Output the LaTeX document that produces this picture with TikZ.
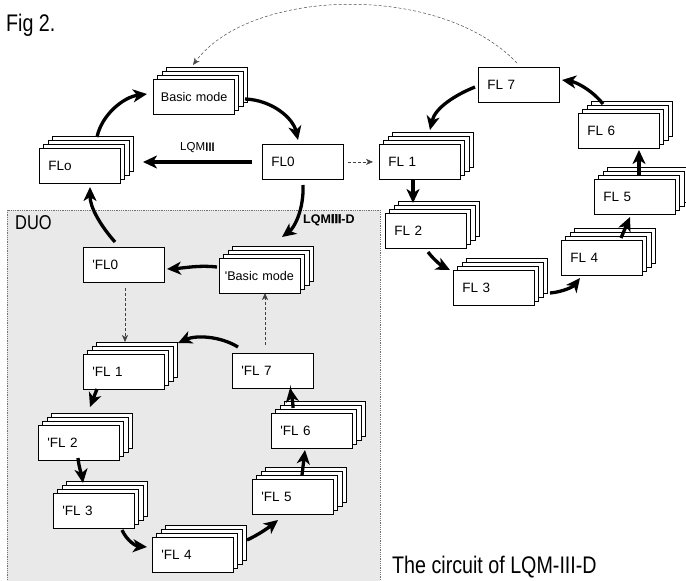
\documentclass[tikz,border=0pt]{standalone}
\usepackage{fontspec}
\setmainfont{Liberation Sans}
\newfontfamily\narrowfont{Liberation Sans}[FakeStretch=0.82]
\newfontfamily\heavyfont{Liberation Sans}[FakeBold=3]
\usetikzlibrary{arrows.meta}
\definecolor{duogray}{RGB}{233,233,233}
\tikzset{
 box/.style={draw, line width=0.8pt, fill=white, anchor=north west, minimum width=81pt, minimum height=35pt,
   inner xsep=9pt, inner ysep=0pt, text width=63pt, align=left, font=\fontsize{13.5}{15}\selectfont},
 bmbox/.style={box, inner xsep=5.5pt, text width=70pt, font=\fontsize{12.6}{14}\selectfont},
 backbox/.style={draw, line width=0.8pt, fill=white},
 flow/.style={line width=3.3pt, -{Stealth[length=14pt,width=13pt,inset=4pt]}},
 hint/.style={line width=0.6pt, black!75, dash pattern=on 3pt off 2pt, -{Stealth[length=7pt,width=6pt,inset=2pt]}},
 label/.style={anchor=base west, inner sep=0pt},
}
\newcommand\mystack[5][box]{%
  \foreach \k in {3,2,1}{\draw[backbox] ({#3+4.5*\k},{#4-3.8*\k}) rectangle ++(81,35);}
  \node[#1] (#2) at (#3,#4) {#5};
}
\begin{document}
\begin{tikzpicture}[x=1pt,y=-1pt]
\useasboundingbox (0,0) rectangle (686,581);
\clip (0,0) rectangle (686,581);
% DUO region
\draw[fill=duogray, draw=black!55, densely dotted, line width=0.8pt] (7,210) rectangle (380,600);
\node[label, font=\narrowfont\fontsize{20}{22}\selectfont] (duo) at (15,229) {DUO};
\node[label, font=\bfseries\fontsize{12.5}{14}\selectfont] (lqmd) at (303,223) {LQM{\heavyfont III}-D};

% texts
\node[label, font=\narrowfont\fontsize{24}{26}\selectfont] (fig) at (6,31) {Fig 2.};
\node[label, font=\narrowfont\fontsize{24}{26}\selectfont] (cap) at (392,573) {The circuit of LQM-III-D};

% top-left cluster
\mystack[bmbox]{basic}{153}{79}{\hspace*{2pt}Basic mode}
\mystack{flo}{39}{148}{FLo}
\node[box] (fl0) at (262,144) {FL0};

% right cluster
\node[box] (fl7) at (478,67) {FL 7};
\mystack{fl1}{379}{144}{FL 1}
\mystack{fl2}{385}{213}{FL 2}
\mystack{fl3}{453}{270}{FL 3}
\mystack{fl4}{561}{240}{FL 4}
\mystack{fl5}{594}{179}{FL 5}
\mystack{fl6}{578}{113}{FL 6}

% DUO cluster
\node[box] (dfl0) at (83,247) {\textquotesingle FL0};
\mystack[bmbox]{dbasic}{219}{258}{\textquotesingle Basic mode}
\node[box] (dfl7) at (232,353) {\textquotesingle FL 7};
\mystack{dfl1}{83}{354}{\textquotesingle FL 1}
\mystack{dfl2}{38}{425}{\textquotesingle FL 2}
\mystack{dfl3}{53}{493}{\textquotesingle FL 3}
\mystack{dfl4}{152}{537}{\textquotesingle FL 4}
\mystack{dfl5}{252}{479}{\textquotesingle FL 5}
\mystack{dfl6}{271}{413}{\textquotesingle FL 6}

% top-left connectors
\draw[flow] ([shift={(58,-11)}]flo.north west) .. controls (102,114) and (124,97) .. ([shift={(-6,15)}]basic.north west);
\draw[flow] ([shift={(92,20)}]basic.north west) .. controls (272,100) and (293,118) .. ([shift={(36,-4)}]fl0.north west);
\draw[flow, line width=3.8pt] ([shift={(-10,18)}]fl0.north west) -- ([shift={(104,14)}]flo.north west)
  node[pos=0.5, above=4pt, font=\fontsize{11.5}{13}\selectfont] (lqm) {LQM{\heavyfont III}};
\draw[hint] ([xshift=4pt]fl0.east) -- ([xshift=-6pt]fl1.west);
\draw[flow] ([shift={(41,41)}]fl0.north west) .. controls (304,210) and (294,228) .. ([shift={(63,-21)}]dbasic.north west);
\draw[flow] ([shift={(32,-5)}]dfl0.north west) .. controls (100,225) and (90,207) .. ([shift={(51,39)}]flo.north west);

% dashed return arc
\draw[hint, line width=0.5pt, black!70] ([shift={(39,-4)}]fl7.north west) .. controls (440,-18) and (250,-12) .. ([shift={(40,-14)}]basic.north west);

% right cluster connectors
\draw[flow] ([shift={(-3,20)}]fl7.north west) .. controls (455,95) and (435,108) .. ([shift={(51,-14)}]fl1.north west);
\draw[flow] ([shift={(34,35)}]fl1.north west) -- ([shift={(28,-10)}]fl2.north west);
\draw[flow] ([shift={(43,39)}]fl2.north west) .. controls (434,260) and (442,266) .. ([shift={(-3,0)}]fl3.north west);
\draw[flow] ([shift={(97,23)}]fl3.north west) .. controls (562,292) and (573,287) .. ([shift={(19,38)}]fl4.north west);
\draw[flow] ([shift={(60,-2)}]fl4.north west) -- ([shift={(36,38)}]fl5.north west);
\draw[flow] ([shift={(45,-4)}]fl5.north west) -- ([shift={(61,37)}]fl6.north west);
\draw[flow] ([shift={(25,-9)}]fl6.north west) .. controls (592,90) and (576,82) .. ([shift={(84,13)}]fl7.north west);

% DUO connectors
\draw[flow] ([shift={(-2,9)}]dbasic.north west) .. controls (198,265) and (185,268) .. ([shift={(84,22)}]dfl0.north west);
\draw[hint] ([shift={(42,41)}]dfl0.north west) -- ([shift={(42,-12)}]dfl1.north west);
\draw[hint] ([shift={(33,-8)}]dfl7.north west) -- ([shift={(46,35)}]dbasic.north west);
\draw[flow] ([shift={(6,-6)}]dfl7.north west) .. controls (220,336) and (196,335) .. ([shift={(95,-11)}]dfl1.north west);
\draw[flow] ([shift={(14,35)}]dfl1.north west) -- ([shift={(52,-18)}]dfl2.north west);
\draw[flow] ([shift={(40,33)}]dfl2.north west) .. controls (79,468) and (82,476) .. ([shift={(30,-10)}]dfl3.north west);
\draw[flow] ([shift={(69,37)}]dfl3.north west) .. controls (127,541) and (136,546) .. ([shift={(-5,10)}]dfl4.north west);
\draw[flow] ([shift={(95,3)}]dfl4.north west) .. controls (258,535) and (268,528) .. ([shift={(26,41)}]dfl5.north west);
\draw[flow] ([shift={(50,-4)}]dfl5.north west) -- ([shift={(34,37)}]dfl6.north west);
\draw[flow] ([shift={(22,-5)}]dfl6.north west) .. controls (293,400) and (291,394) .. ([shift={(58,35)}]dfl7.north west);
\end{tikzpicture}
\end{document}
